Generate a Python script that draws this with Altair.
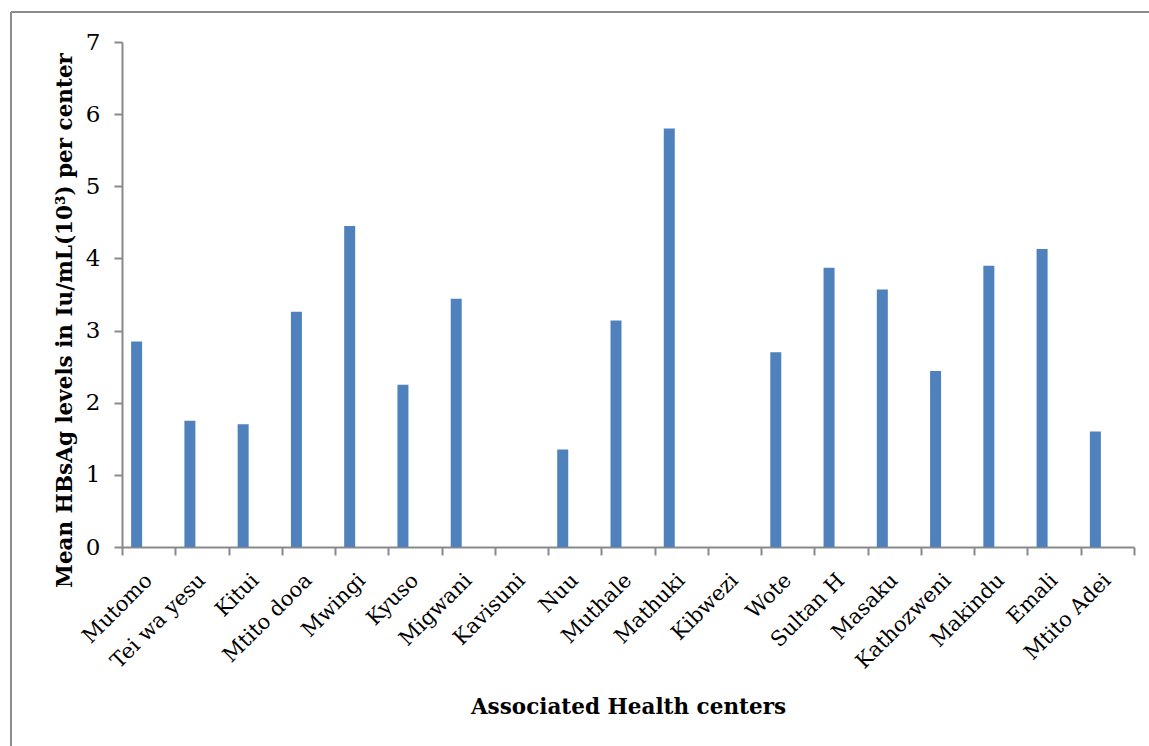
import altair as alt
import pandas as pd

centers = ["Mutomo", "Tei wa yesu", "Kitui", "Mtito dooa", "Mwingi", "Kyuso",
           "Migwani", "Kavisuni", "Nuu", "Muthale", "Mathuki", "Kibwezi", "Wote",
           "Sultan H", "Masaku", "Kathozweni", "Makindu", "Emali", "Mtito Adei"]
values = [2.85, 1.75, 1.70, 3.26, 4.45, 2.25, 3.44, 0.0, 1.35, 3.14, 5.80, 0.0,
          2.70, 3.87, 3.57, 2.44, 3.90, 4.13, 1.60]
y_ticks = [0, 1, 2, 3, 4, 5, 6, 7]

df = pd.DataFrame({"center": centers, "value": values})

FONT = "DejaVu Serif"
AXIS_GREY = "#898989"
W, H = 1012, 505

bars = alt.Chart(df).mark_bar(size=11, xOffset=-12, color="#4F81BD").encode(
    x=alt.X("center:N", sort=centers,
            scale=alt.Scale(paddingInner=0, paddingOuter=0),
            axis=alt.Axis(title="Associated Health centers", labelAngle=-45,
                          labelAlign="right", labelBaseline="middle", grid=False,
                          labelPadding=22, labelFont=FONT, labelFontSize=21,
                          labelColor="black",
                          tickBand="extent", tickSize=8, tickColor=AXIS_GREY,
                          tickWidth=2, domainColor=AXIS_GREY, domainWidth=2,
                          titleFont=FONT, titleFontSize=21.5, titleFontWeight="bold",
                          titleColor="black", titleX=W / 2, titleY=160,
                          titleBaseline="middle", titleAlign="center")),
    y=alt.Y("value:Q", scale=alt.Scale(domain=[0, 7], nice=False),
            axis=alt.Axis(title="Mean HBsAg levels in Iu/mL(10³) per center",
                          values=y_ticks, format="d", grid=False,
                          labelFont=FONT, labelFontSize=23, labelColor="black",
                          labelPadding=14, tickSize=8, tickColor=AXIS_GREY,
                          tickWidth=2, domainColor=AXIS_GREY, domainWidth=2,
                          titleFont=FONT, titleFontSize=21.5, titleFontWeight="bold",
                          titleColor="black", titleX=-57, titleY=278,
                          titleAngle=-90, titleAlign="center",
                          titleBaseline="middle")),
)

frame_df = pd.DataFrame({"k": [0]})
top_line = alt.Chart(frame_df).mark_rule(color="#8c8c8c", strokeWidth=2).encode(
    x=alt.value(-111), x2=alt.value(1040), y=alt.value(-30))
left_line = alt.Chart(frame_df).mark_rule(color="#8c8c8c", strokeWidth=2).encode(
    x=alt.value(-111), y=alt.value(-30), y2=alt.value(720))

chart = alt.layer(top_line, left_line, bars).properties(
    width=W, height=H,
    autosize=alt.AutoSizeParams(type="none"),
    padding={"left": 122, "top": 42, "right": 15, "bottom": 199},
    background="white",
).configure_view(stroke="transparent", strokeOpacity=0, strokeWidth=0,
                 fill="white")

chart.save("out.html", embed_options={"renderer": "svg", "actions": False})
